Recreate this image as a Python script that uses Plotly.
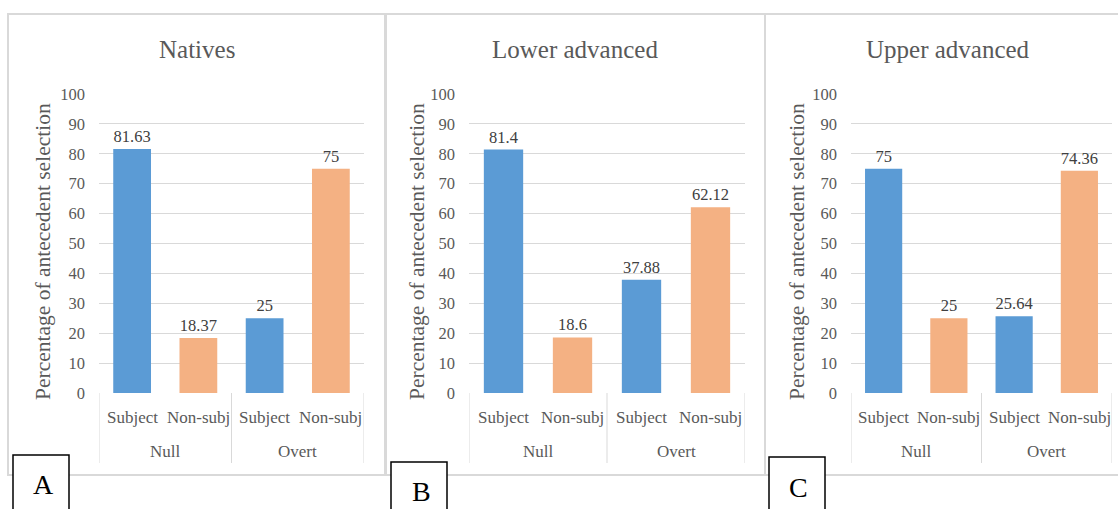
import plotly.graph_objects as go

# ---- data ----
groups = ["Null", "Null", "Overt", "Overt"]
antecedents = ["Subject", "Non-subj", "Subject", "Non-subj"]
natives = [81.63, 18.37, 25, 75]
lower_adv = [81.4, 18.6, 37.88, 62.12]
upper_adv = [75, 25, 25.64, 74.36]
titles = ["Natives", "Lower advanced", "Upper advanced"]
letters = ["A", "B", "C"]
y_title = "Percentage of antecedent selection"
bar_colors = ["#5B9BD5", "#F4B183", "#5B9BD5", "#F4B183"]

W, H = 1118, 509
FONT = "Liberation Serif, Times New Roman, serif"
TXT = "#595959"
GRID = "#D9D9D9"


def px(x):
    return x / W


def py(y):
    return 1 - y / H


# layout geometry (pixels)
panels = [
    dict(values=natives, x0=99, x1=364, frame=(8, 386), ytx=43,
         box=(13, 69, 455), lpos=(43, 484)),
    dict(values=lower_adv, x0=469, x1=745, frame=(385, 765), ytx=417,
         box=(391, 447, 462), lpos=(421, 491)),
    dict(values=upper_adv, x0=851, x1=1112, frame=(765, 1131), ytx=797,
         box=(769, 825, 457), lpos=(798, 487)),
]
PLOT_TOP, PLOT_BOT = 94, 393

cats = [f"{g} {a}" for g, a in zip(groups, antecedents)]

fig = go.Figure()
shapes = []
annotations = []

for i, p in enumerate(panels):
    n = "" if i == 0 else str(i + 1)
    xa, ya = "x" + n, "y" + n
    fig.add_trace(go.Bar(
        x=cats, y=p["values"], xaxis=xa, yaxis=ya,
        marker=dict(color=bar_colors, line=dict(width=0)),
        text=[f"{v:g}" for v in p["values"]], textposition="outside",
        textfont=dict(family=FONT, size=16.5, color="#404040"),
        cliponaxis=False, showlegend=False, width=0.57,
    ))
    fig.update_layout(**{
        "xaxis" + n: dict(domain=[px(p["x0"]), px(p["x1"])], anchor=ya,
                          type="category", range=[-0.5, 3.5],
                          showticklabels=False, showgrid=False,
                          zeroline=False, showline=False, fixedrange=True,
                          automargin=False),
        "yaxis" + n: dict(domain=[py(PLOT_BOT), py(PLOT_TOP)], anchor=xa,
                          range=[0, 100], dtick=10, showgrid=True,
                          gridcolor=GRID, gridwidth=1, zeroline=False,
                          showline=False, ticks="", ticklabelstandoff=13,
                          automargin=False,
                          tickfont=dict(family=FONT, size=16.5, color=TXT)),
    })
    # frame
    fx0, fx1 = p["frame"]
    shapes.append(dict(type="rect", xref="paper", yref="paper",
                       x0=px(fx0), x1=px(fx1), y0=py(475), y1=py(14),
                       line=dict(color=GRID, width=2), layer="below"))
    # category dividers
    for xv in (-0.5, 1.5, 3.5):
        shapes.append(dict(type="line", xref=xa, yref="paper",
                           x0=xv, x1=xv, y0=py(PLOT_BOT), y1=py(463),
                           line=dict(color=GRID, width=1)))
    # sub-category labels
    for c, a in zip(cats, antecedents):
        annotations.append(dict(x=c, xref=xa, y=py(417), yref="paper",
                                text=a, showarrow=False,
                                font=dict(family=FONT, size=17, color=TXT),
                                xanchor="center", yanchor="middle"))
    # group labels
    for gi, g in enumerate(dict.fromkeys(groups)):
        annotations.append(dict(x=gi * 2 + 0.5, xref=xa, y=py(451), yref="paper",
                                text=g, showarrow=False,
                                font=dict(family=FONT, size=17, color=TXT),
                                xanchor="center", yanchor="middle"))
    # title
    annotations.append(dict(x=px((fx0 + fx1) / 2), xref="paper", y=py(49),
                            yref="paper", text=titles[i], showarrow=False,
                            font=dict(family=FONT, size=25, color=TXT),
                            xanchor="center", yanchor="middle"))
    # y title
    annotations.append(dict(x=px(p["ytx"]), xref="paper",
                            y=py(252), yref="paper",
                            text=y_title, textangle=-90, showarrow=False,
                            font=dict(family=FONT, size=21.5, color=TXT),
                            xanchor="center", yanchor="middle"))
    # letter box
    bx0, bx1, by0 = p["box"]
    shapes.append(dict(type="rect", xref="paper", yref="paper",
                       x0=px(bx0), x1=px(bx1), y0=py(520), y1=py(by0),
                       line=dict(color="black", width=1.5),
                       fillcolor="white"))
    annotations.append(dict(x=px(p["lpos"][0]), xref="paper",
                            y=py(p["lpos"][1]), yref="paper",
                            text=letters[i], showarrow=False,
                            font=dict(family=FONT, size=28, color="black"),
                            xanchor="center", yanchor="middle"))

fig.update_layout(
    width=W, height=H, margin=dict(l=0, r=0, t=0, b=0, pad=0),
    autosize=False,
    paper_bgcolor="white", plot_bgcolor="white",
    shapes=shapes, annotations=annotations, bargap=0.43,
    font=dict(family=FONT, color=TXT),
)

fig.write_html("out.html", config={"displayModeBar": False})
